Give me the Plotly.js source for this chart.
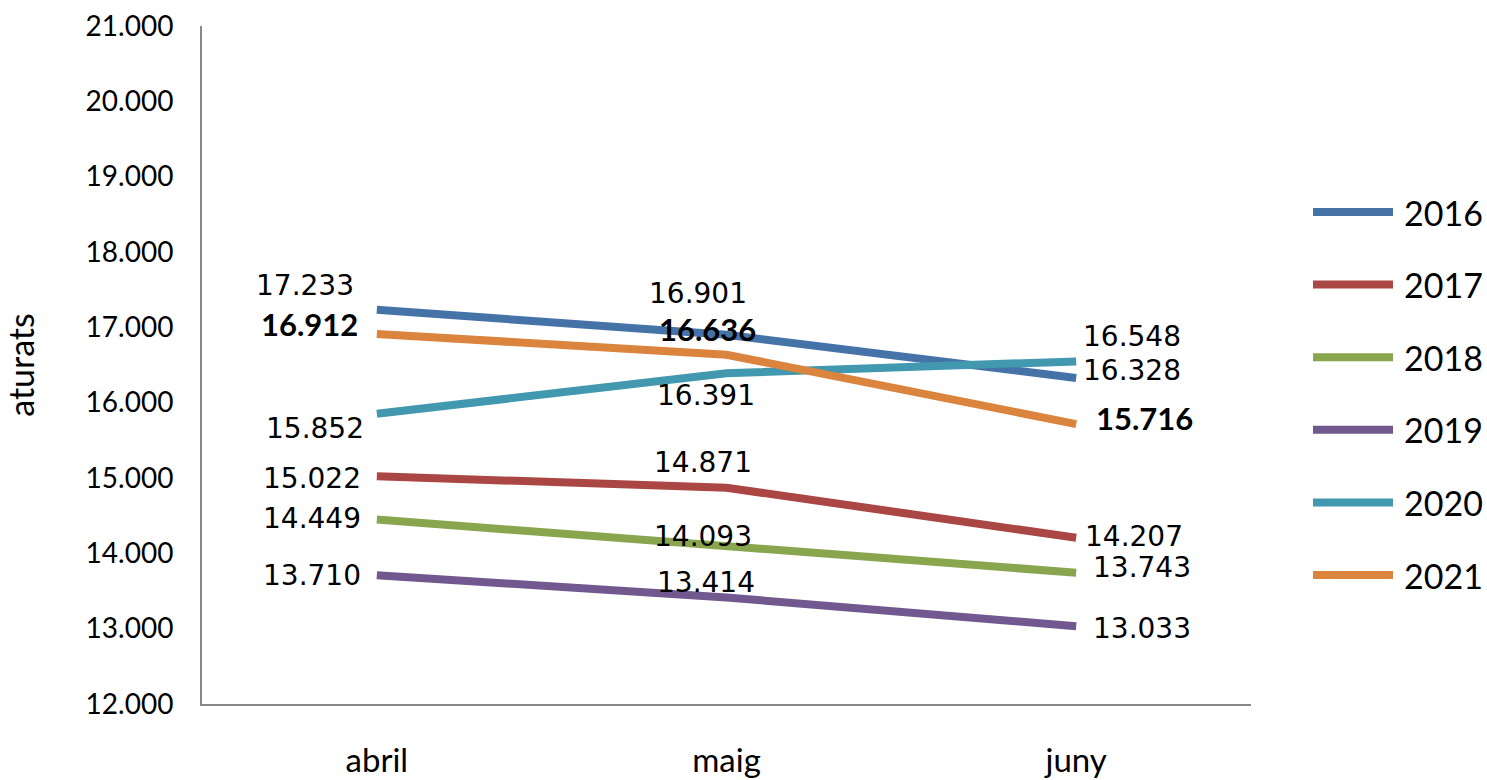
<!DOCTYPE html>
<html>
<head>
<meta charset="utf-8">
<script src="https://cdn.plot.ly/plotly-3.0.1.min.js"></script>
<style>html,body{margin:0;padding:0;background:#fff;}#chart{width:1487px;height:780px;}</style>
</head>
<body>
<div id="chart"></div>
<script>
// ---- data ----
var months = ['abril', 'maig', 'juny'];
var years = ['2016', '2017', '2018', '2019', '2020', '2021'];
var v2016 = [17233, 16901, 16328];
var v2017 = [15022, 14871, 14207];
var v2018 = [14449, 14093, 13743];
var v2019 = [13710, 13414, 13033];
var v2020 = [15852, 16391, 16548];
var v2021 = [16912, 16636, 15716];
var yTicks = [12000, 13000, 14000, 15000, 16000, 17000, 18000, 19000, 20000, 21000];

// ---- styling (not data) ----
var seriesValues = [v2016, v2017, v2018, v2019, v2020, v2021];
var colors = ['#4572A7', '#AA4643', '#89A54E', '#71588F', '#4198AF', '#DB843D'];
var boldLabels = [false, false, false, false, false, true];
// label offsets per series per month: [xshift, yshift]
var labelOffsets = [
  [[-72, 24], [-29, 41], [56, 7]],
  [[-65, -2], [-24, 25], [58, 1]],
  [[-65, 1], [-24, 10], [66, 5]],
  [[-65, 0], [-21, 15], [66, -2]],
  [[-62, -15], [-21, -22], [56, 25]],
  [[-67, 10], [-19, 26], [68, 6]]
];

function fmt(n) {
  return String(n).replace(/\B(?=(\d{3})+(?!\d))/g, '.');
}

var traces = [];
var annotations = [];
var shapes = [];
for (var i = 0; i < years.length; i++) {
  traces.push({
    type: 'scatter', mode: 'lines', name: years[i],
    x: months, y: seriesValues[i],
    line: {color: colors[i], width: 8},
    showlegend: false, hoverinfo: 'x+y+name'
  });
  for (var j = 0; j < months.length; j++) {
    annotations.push({
      x: months[j], y: seriesValues[i][j], xref: 'x', yref: 'y',
      text: fmt(seriesValues[i][j]), showarrow: false,
      xshift: labelOffsets[i][j][0], yshift: labelOffsets[i][j][1],
      font: boldLabels[i]
        ? {family: 'Lato', size: 31, color: '#000', weight: 'bold'}
        : {family: 'DejaVu Sans', size: 28, color: '#000'}
    });
  }
}

// custom legend (pixel -> paper coords)
var L = 202, T = 26, W = 1049, H = 678;
function px(x) { return (x - L) / W; }
function py(y) { return (T + H - y) / H; }
for (var k = 0; k < years.length; k++) {
  var yy = 212 + k * 72.6;
  shapes.push({
    type: 'line', xref: 'paper', yref: 'paper',
    x0: px(1313), x1: px(1393), y0: py(yy), y1: py(yy),
    line: {color: colors[k], width: 8}
  });
  annotations.push({
    xref: 'paper', yref: 'paper', x: px(1402), y: py(yy),
    xanchor: 'left', yanchor: 'middle', showarrow: false,
    text: years[k], font: {family: 'Lato', size: 34, color: '#000'}
  });
}

var layout = {
  width: 1487, height: 780,
  margin: {l: L, r: 1487 - L - W, t: T, b: 780 - T - H},
  paper_bgcolor: '#fff', plot_bgcolor: '#fff',
  separators: ',.',
  showlegend: false,
  font: {family: 'Lato', color: '#000'},
  xaxis: {
    type: 'category', range: [-0.5, 2.5],
    showline: true, linecolor: '#888888', linewidth: 2,
    showgrid: false, zeroline: false, ticks: '',
    ticklabelstandoff: 26, automargin: false,
    tickfont: {family: 'Lato', size: 33, color: '#000'}
  },
  yaxis: {
    range: [12000, 21000],
    tickvals: yTicks, tickformat: ',d',
    showline: true, linecolor: '#888888', linewidth: 2,
    showgrid: false, zeroline: false, ticks: '',
    ticklabelstandoff: 21,
    automargin: 'left',
    tickfont: {family: 'Lato', size: 28, color: '#000'},
    title: {text: 'aturats', standoff: 41, font: {family: 'Lato', size: 34, color: '#000'}}
  },
  annotations: annotations,
  shapes: shapes
};

Plotly.newPlot('chart', traces, layout, {staticPlot: true, displayModeBar: false});
</script>
</body>
</html>
